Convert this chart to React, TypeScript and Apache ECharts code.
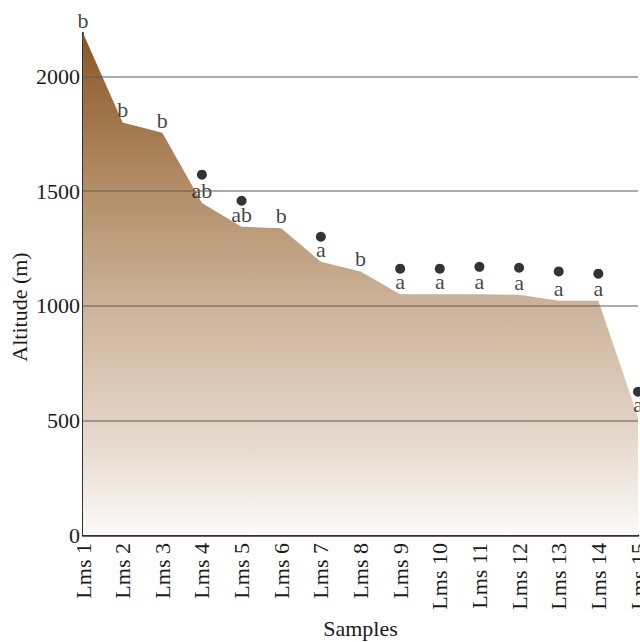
import React, { useEffect, useRef } from "react";
import * as echarts from "echarts";

const categories = [
  "Lms 1", "Lms 2", "Lms 3", "Lms 4", "Lms 5", "Lms 6", "Lms 7", "Lms 8",
  "Lms 9", "Lms 10", "Lms 11", "Lms 12", "Lms 13", "Lms 14", "Lms 15",
];
const altitude = [2190, 1800, 1755, 1448, 1345, 1338, 1192, 1150, 1050, 1050, 1050, 1048, 1022, 1022, 515];
const letters = ["b", "b", "b", "ab", "ab", "b", "a", "b", "a", "a", "a", "a", "a", "a", "a"];
const dotValues: (number | null)[] = [null, null, null, 1572, 1458, null, 1301, null, 1162, 1162, 1170, 1166, 1150, 1140, 625];
const gridValues = [500, 1000, 1500, 2000];
const yMax = 2190;
const yInterval = 500;

const FONT = "Liberation Serif";

export default function App() {
  const ref = useRef<HTMLDivElement>(null);
  useEffect(() => {
    if (!ref.current) return;
    document.documentElement.style.overflow = "hidden";
    document.body.style.overflow = "hidden";
    const chart = echarts.init(ref.current, null, { renderer: "svg", width: 640, height: 642 });
    chart.setOption({
      animation: false,
      backgroundColor: "#ffffff",
      grid: {
        left: 83,
        right: 2,
        top: 33,
        bottom: 107,
        containLabel: false,
        outerBoundsMode: "none",
      },
      xAxis: {
        type: "category",
        data: categories,
        boundaryGap: false,
        name: "Samples",
        nameLocation: "middle",
        nameGap: 80,
        nameTextStyle: { fontFamily: FONT, fontSize: 22, color: "#1a1a1a" },
        axisLine: { show: true, lineStyle: { color: "#333", width: 2.5 } },
        axisTick: { show: false },
        axisLabel: {
          rotate: 90,
          interval: 0,
          margin: 8,
          hideOverlap: false,
          fontFamily: FONT,
          fontSize: 22,
          color: "#1a1a1a",
        },
        splitLine: { show: false },
      },
      yAxis: {
        type: "value",
        min: 0,
        max: yMax,
        interval: yInterval,
        axisLine: { show: true, lineStyle: { color: "#333", width: 2 } },
        axisTick: { show: false },
        axisLabel: {
          showMaxLabel: false,
          margin: 3,
          fontFamily: FONT,
          fontSize: 22,
          color: "#1a1a1a",
          formatter: (v: number) => (v % yInterval === 0 ? String(v) : ""),
        },
        splitLine: { show: false },
      },
      graphic: [
        {
          type: "text",
          x: 19,
          y: 307,
          rotation: Math.PI / 2,
          style: {
            text: "Altitude (m)",
            fontFamily: FONT,
            fontSize: 22,
            fill: "#1a1a1a",
            align: "center",
            verticalAlign: "middle",
          },
        },
      ],
      series: [
        {
          type: "line",
          data: altitude,
          showSymbol: false,
          symbol: "none",
          lineStyle: { width: 0 },
          z: 1,
          areaStyle: {
            opacity: 1,
            color: new echarts.graphic.LinearGradient(0, 0, 0, 1, [
              { offset: 0, color: "#8a5726" },
              { offset: 0.3, color: "#b18c66" },
              { offset: 0.55, color: "#cdb49b" },
              { offset: 0.78, color: "#e2d3c5" },
              { offset: 1, color: "#fcfaf8" },
            ]),
          },
        },
        {
          type: "scatter",
          data: altitude,
          symbolSize: 1,
          itemStyle: { color: "rgba(0,0,0,0)" },
          z: 4,
          label: {
            show: true,
            position: "top",
            distance: 1,
            fontFamily: FONT,
            fontSize: 22,
            color: "#111",
            formatter: (p: any) => letters[p.dataIndex],
          },
          markLine: {
            silent: true,
            symbol: "none",
            label: { show: false },
            lineStyle: { color: "rgba(90,90,90,0.5)", width: 2, type: "solid" },
            data: gridValues.map((v) => ({ yAxis: v })),
          },
        },
        {
          type: "scatter",
          data: dotValues.map((v) => (v === null ? "-" : v)),
          symbol: "circle",
          symbolSize: 10,
          itemStyle: { color: "#000" },
          z: 5,
        },
      ],
    });
    return () => chart.dispose();
  }, []);
  return (
    <div
      ref={ref}
      style={{ position: "fixed", left: 0, top: 0, width: 640, height: 642 }}
    />
  );
}
